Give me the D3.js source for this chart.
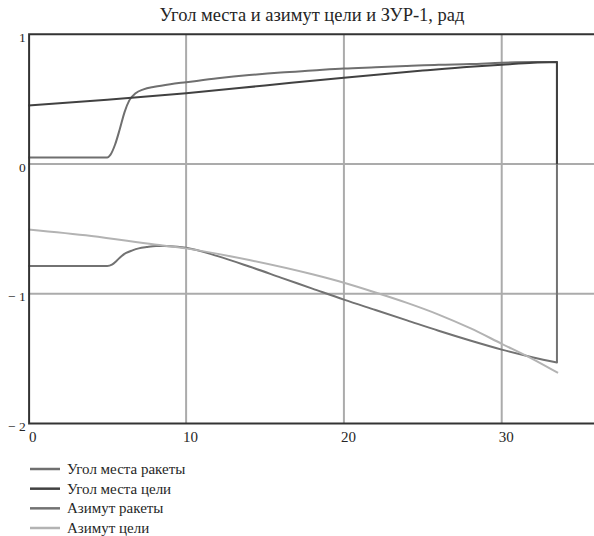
<!DOCTYPE html>
<html>
<head>
<meta charset="utf-8">
<script src="https://cdn.jsdelivr.net/npm/d3@7/dist/d3.min.js"></script>
<style>
  html, body { margin: 0; padding: 0; background: #fff; }
  svg { display: block; }
  svg text { font-family: "Liberation Serif", "Times New Roman", "DejaVu Serif", serif !important; fill: #262626; }
</style>
</head>
<body>
<svg id="chart" width="594" height="536"></svg>
<script>
// Time, s
const tEnd = 33.5;          // moment of interception: angles reset to zero

// Угол места ракеты
const rocketElevT = [0, 5.0, 5.2, 5.5, 5.8, 6.1, 6.4, 6.8, 7.3, 8, 9, 10, 12, 14, 16, 18, 20, 22, 24, 26, 28, 30, 32, 33.5];
const rocketElev  = [0.05, 0.05, 0.07, 0.15, 0.27, 0.40, 0.49, 0.545, 0.575, 0.595, 0.615, 0.63, 0.66, 0.685, 0.705, 0.72, 0.735, 0.745, 0.755, 0.765, 0.77, 0.78, 0.785, 0.785];

// Угол места цели
const targetElevT = [0, 5, 10, 15, 20, 25, 28, 30, 32, 33.5];
const targetElev  = [0.45, 0.495, 0.545, 0.605, 0.665, 0.72, 0.75, 0.765, 0.78, 0.785];

// Азимут ракеты
const rocketAzT = [0, 5, 5.3, 5.6, 5.9, 6.2, 6.6, 7.0, 7.5, 8.1, 9, 10, 12, 14, 16, 18, 20, 22, 24, 26, 28, 30, 32, 33.5];
const rocketAz  = [-0.785, -0.785, -0.775, -0.745, -0.71, -0.685, -0.665, -0.65, -0.64, -0.632, -0.633, -0.645, -0.71, -0.79, -0.875, -0.96, -1.045, -1.125, -1.205, -1.285, -1.36, -1.43, -1.49, -1.53];

// Азимут цели
const targetAzT = [0, 4, 8, 10, 14, 18, 20, 22, 24, 26, 28, 30, 32, 33.57];
const targetAz  = [-0.505, -0.555, -0.62, -0.65, -0.74, -0.85, -0.915, -0.99, -1.07, -1.16, -1.265, -1.385, -1.505, -1.61];

const dropValue = 0;  // value the missile angles fall to after tEnd

const xTicks = [0, 10, 20, 30];
const yTicks = [1, 0, -1, -2];
const yTickLabels = ["1", "0", "\u2212 1", "\u2212 2"];
const xGrid = [10, 20, 30];
const yGrid = [0, -1];

const title = "Угол места и азимут цели и ЗУР-1, рад";
const legendNames = ["Угол места ракеты", "Угол места цели", "Азимут ракеты", "Азимут цели"];

const series = [
  { name: legendNames[0], t: rocketElevT, v: rocketElev, drop: true,  color: "#6f6f6f" },
  { name: legendNames[1], t: targetElevT, v: targetElev, drop: true,  color: "#414141" },
  { name: legendNames[2], t: rocketAzT,   v: rocketAz,   drop: true,  color: "#727272" },
  { name: legendNames[3], t: targetAzT,   v: targetAz,   drop: false, color: "#b3b3b3" }
];

const SERIF = "Liberation Serif, Times New Roman, DejaVu Serif, serif";
const svg = d3.select("#chart");
const W = 594;

const x = d3.scaleLinear().domain([0, 36]).range([28.3, 596.4]);
const y = d3.scaleLinear().domain([-2, 1]).range([423.6, 34.2]);

// grid
const grid = svg.append("g").attr("stroke", "#ababab").attr("stroke-width", 2);
grid.selectAll("line.v").data(xGrid).join("line")
  .attr("x1", d => x(d)).attr("x2", d => x(d))
  .attr("y1", y(1)).attr("y2", y(-2));
grid.selectAll("line.h").data(yGrid).join("line")
  .attr("x1", x(0)).attr("x2", W)
  .attr("y1", d => y(d)).attr("y2", d => y(d));

// curves
const line = d3.line().x(d => x(d[0])).y(d => y(d[1])).curve(d3.curveMonotoneX);
const plot = svg.append("g").attr("fill", "none").attr("stroke-width", 2).attr("stroke-linejoin", "round");
series.forEach(s => {
  const pts = s.t.map((t, i) => [t, s.v[i]]);
  let dStr = line(pts);
  if (s.drop) dStr += `L${x(tEnd)},${y(dropValue)}`;
  plot.append("path").attr("d", dStr).attr("stroke", s.color);
});

// frame
const frame = svg.append("g").attr("stroke", "#333").attr("stroke-width", 2).attr("fill", "none");
frame.append("path").attr("d", `M${W},${y(1)}H${x(0) + 0.8}V${y(-2)}H${W}`);

// axes (labels only; lines are the frame and grid)
const xAxis = d3.axisBottom(x).tickValues(xTicks).tickSize(0).tickPadding(0).tickFormat(d3.format("d"));
const gx = svg.append("g").attr("transform", `translate(4,${y(-2) + 18.5})`).call(xAxis)
  .attr("font-family", SERIF).attr("font-size", 15);
gx.select(".domain").remove();
gx.selectAll("text").attr("dy", 0).attr("y", 0);

const yAxis = d3.axisLeft(y).tickValues(yTicks).tickSize(0).tickPadding(0)
  .tickFormat((d, i) => yTickLabels[i]);
const gy = svg.append("g").attr("transform", `translate(${x(0) - 2.5},7)`).call(yAxis)
  .attr("font-family", SERIF).attr("font-size", 13.5);
gy.select(".domain").remove();
gy.selectAll("text").attr("dy", 0).attr("x", 0);

// title
svg.append("text").attr("x", 312).attr("y", 21).attr("text-anchor", "middle")
  .attr("font-family", SERIF).attr("font-size", 18.5).text(title);

// legend
const lg = svg.append("g").attr("font-family", SERIF).attr("font-size", 15);
const rowY = d3.scalePoint().domain(legendNames).range([469, 528]);
series.forEach(s => {
  const yy = rowY(s.name);
  lg.append("line").attr("x1", 30).attr("x2", 60).attr("y1", yy).attr("y2", yy)
    .attr("stroke", s.color).attr("stroke-width", 2.5);
  lg.append("text").attr("x", 67).attr("y", yy + 5).text(s.name);
});
</script>
</body>
</html>
